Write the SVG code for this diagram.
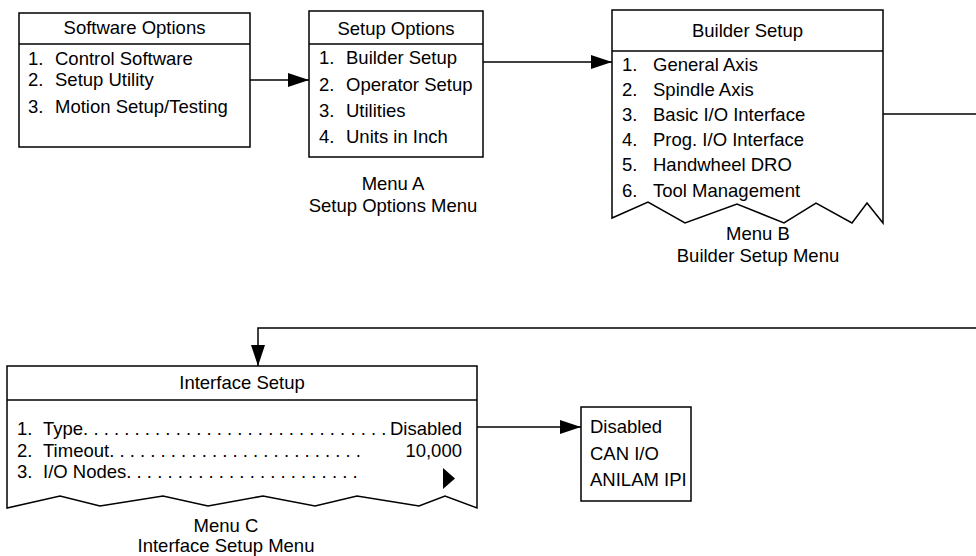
<svg xmlns="http://www.w3.org/2000/svg" width="976" height="556" viewBox="0 0 976 556">
  <defs>
    <style>
      text { font-family: "Liberation Sans", Arial, sans-serif; font-size: 18.5px; fill: #000; }
      .c { text-anchor: middle; }
      .e { text-anchor: end; }
      .box { fill: #fff; stroke: #000; stroke-width: 1.5; }
      .ln { fill: none; stroke: #000; stroke-width: 1.5; }
      .conn { fill: none; stroke: #000; stroke-width: 1.5; }
    </style>
    <marker id="arr" markerUnits="userSpaceOnUse" markerWidth="21" markerHeight="14" refX="21" refY="7" orient="auto">
      <path d="M0,0 L21,7 L0,14 Z" fill="#000"/>
    </marker>
  </defs>
  <rect width="976" height="556" fill="#fff"/>

  <g id="connectors">
    <path class="conn" d="M250,80 H309" marker-end="url(#arr)"/>
    <path class="conn" d="M483,62 H612" marker-end="url(#arr)"/>
    <path class="conn" d="M883,114 H980"/>
    <path class="conn" d="M980,328 H258 V366" marker-end="url(#arr)"/>
    <path class="conn" d="M477,427 H581" marker-end="url(#arr)"/>
  </g>

  <g id="software-options">
    <rect class="box" x="19" y="13" width="231" height="134"/>
    <line class="ln" x1="19" y1="44" x2="250" y2="44"/>
    <text class="c" x="134.5" y="34">Software Options</text>
    <text x="28" y="65">1.</text><text x="55" y="65">Control Software</text>
    <text x="28" y="86">2.</text><text x="55" y="86">Setup Utility</text>
    <text x="28" y="113">3.</text><text x="55" y="113">Motion Setup/Testing</text>
  </g>

  <g id="setup-options">
    <rect class="box" x="309" y="11" width="174" height="146"/>
    <line class="ln" x1="309" y1="44" x2="483" y2="44"/>
    <text class="c" x="396" y="35">Setup Options</text>
    <text x="319" y="64">1.</text><text x="346" y="64">Builder Setup</text>
    <text x="319" y="91">2.</text><text x="346" y="91">Operator Setup</text>
    <text x="319" y="117">3.</text><text x="346" y="117">Utilities</text>
    <text x="319" y="143">4.</text><text x="346" y="143">Units in Inch</text>
    <text class="c" x="393" y="190">Menu A</text>
    <text class="c" x="393" y="212">Setup Options Menu</text>
  </g>

  <g id="builder-setup">
    <path class="box" d="M612,10 H883 V223 L867,203 L852,223 L816,203 L784,223 L737,204 L685,223 L648,202 L612,218 Z"/>
    <line class="ln" x1="612" y1="51" x2="883" y2="51"/>
    <text class="c" x="747.5" y="37">Builder Setup</text>
    <text x="622" y="71">1.</text><text x="653" y="71">General Axis</text>
    <text x="622" y="96">2.</text><text x="653" y="96">Spindle Axis</text>
    <text x="622" y="121">3.</text><text x="653" y="121">Basic I/O Interface</text>
    <text x="622" y="146">4.</text><text x="653" y="146">Prog. I/O Interface</text>
    <text x="622" y="171">5.</text><text x="653" y="171">Handwheel DRO</text>
    <text x="622" y="197">6.</text><text x="653" y="197">Tool Management</text>
    <text class="c" x="758" y="240">Menu B</text>
    <text class="c" x="758" y="262">Builder Setup Menu</text>
  </g>

  <g id="interface-setup">
    <path class="box" d="M7,366 H477 V508 L445,496 L419,506 L357,496 L315,506 L263,496 L208,506 L163,496 L100,506 L60,496 L7,508 Z"/>
    <line class="ln" x1="7" y1="400" x2="477" y2="400"/>
    <text class="c" x="242" y="389">Interface Setup</text>
    <text x="17" y="435">1.</text><text x="43" y="435">Type. . . . . . . . . . . . . . . . . . . . . . . . . . . . . .</text>
    <text class="e" x="462" y="435">Disabled</text>
    <text x="17" y="457">2.</text><text x="43" y="457">Timeout. . . . . . . . . . . . . . . . . . . . . . . . .</text>
    <text class="e" x="462" y="457">10,000</text>
    <text x="17" y="478">3.</text><text x="43" y="478">I/O Nodes. . . . . . . . . . . . . . . . . . . . . . .</text>
    <path d="M443,468 L455,478.5 L443,489 Z" fill="#000"/>
    <text class="c" x="226" y="532">Menu C</text>
    <text class="c" x="226" y="552">Interface Setup Menu</text>
  </g>

  <g id="type-values">
    <rect class="box" x="581" y="407" width="110" height="94"/>
    <text x="590" y="433">Disabled</text>
    <text x="590" y="460">CAN I/O</text>
    <text x="590" y="486">ANILAM IPI</text>
  </g>
</svg>
